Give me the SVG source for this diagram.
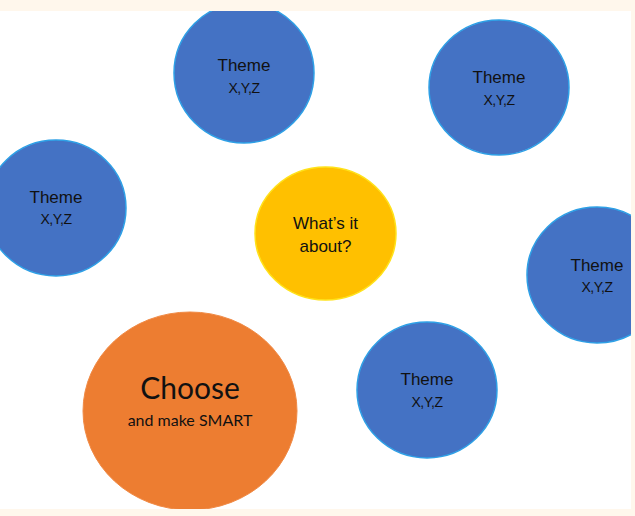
<svg xmlns="http://www.w3.org/2000/svg" width="635" height="516" viewBox="0 0 635 516">
  <style>
    .theme { fill: #4472C4; stroke: #2EA0E6; stroke-width: 1.5; }
    .center { fill: #FFC000; stroke: #FFE21A; stroke-width: 1.5; }
    .choose { fill: #ED7D31; stroke: #F08A45; stroke-width: 1; }
    .t1 { font-family: "Liberation Sans", Arial, sans-serif; font-size: 17px; fill: #111111; text-anchor: middle; }
    .t2 { font-family: "Liberation Sans", Arial, sans-serif; font-size: 14px; letter-spacing: -0.4px; fill: #111111; text-anchor: middle; }
    .big { font-family: Lato, "Open Sans", sans-serif; font-size: 30px; fill: #111111; text-anchor: middle; }
    .small { font-family: Lato, "Open Sans", sans-serif; font-size: 16px; fill: #111111; text-anchor: middle; }
  </style>
  <defs>
    <clipPath id="page">
      <rect x="0" y="11" width="631" height="498"/>
    </clipPath>
  </defs>
  <rect x="0" y="0" width="635" height="516" fill="#FFF7EC"/>
  <rect x="0" y="11" width="631" height="498" fill="#FFFFFF"/>
  <g id="connectors"/>
  <g clip-path="url(#page)">
    <g id="theme-top">
      <ellipse class="theme" cx="244" cy="73" rx="70" ry="70"/>
      <text class="t1" x="244" y="71">Theme</text>
      <text class="t2" x="244" y="93">X,Y,Z</text>
    </g>
    <g id="theme-top-right">
      <ellipse class="theme" cx="499" cy="87.5" rx="70" ry="67.5"/>
      <text class="t1" x="499" y="83">Theme</text>
      <text class="t2" x="499" y="105">X,Y,Z</text>
    </g>
    <g id="theme-left">
      <ellipse class="theme" cx="56" cy="208" rx="70" ry="68"/>
      <text class="t1" x="56" y="203">Theme</text>
      <text class="t2" x="56" y="224">X,Y,Z</text>
    </g>
    <g id="center">
      <ellipse class="center" cx="325.5" cy="233.5" rx="70.5" ry="66.5"/>
      <text class="t1" x="325.5" y="229">What’s it</text>
      <text class="t1" x="325.5" y="252">about?</text>
    </g>
    <g id="theme-right">
      <ellipse class="theme" cx="597" cy="275" rx="70" ry="68"/>
      <text class="t1" x="597" y="271">Theme</text>
      <text class="t2" x="597" y="292">X,Y,Z</text>
    </g>
    <g id="theme-bottom">
      <ellipse class="theme" cx="427" cy="390" rx="70" ry="68"/>
      <text class="t1" x="427" y="385">Theme</text>
      <text class="t2" x="427" y="407">X,Y,Z</text>
    </g>
    <g id="choose">
      <ellipse class="choose" cx="190" cy="411" rx="107" ry="99"/>
      <text class="big" x="190" y="399">Choose</text>
      <text class="small" x="190" y="426">and make SMART</text>
    </g>
  </g>
</svg>
